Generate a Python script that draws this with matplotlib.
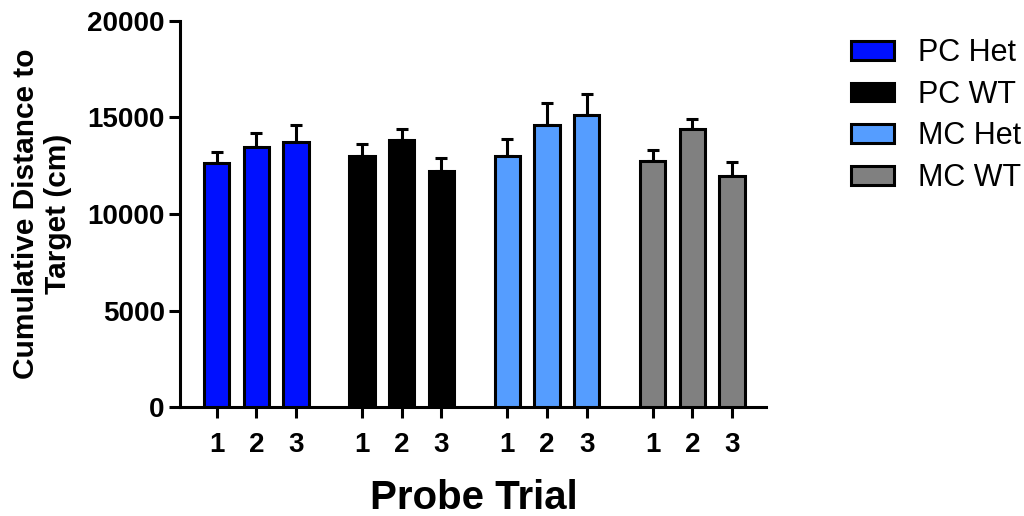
import numpy as np
import matplotlib
matplotlib.use("Agg")
import matplotlib.pyplot as plt
from matplotlib.patches import Patch

plt.rcParams['font.family'] = ['Liberation Sans', 'DejaVu Sans']

groups = ['PC Het', 'PC WT', 'MC Het', 'MC WT']
colors = ['#0010FF', '#000000', '#559DFF', '#808080']
trials = ['1', '2', '3']

means = {
    'PC Het': [12620, 13450, 13710],
    'PC WT': [12980, 13830, 12220],
    'MC Het': [13020, 14620, 15140],
    'MC WT': [12730, 14380, 11970],
}
sems = {
    'PC Het': [570, 720, 880],
    'PC WT': [620, 550, 690],
    'MC Het': [860, 1120, 1050],
    'MC WT': [600, 550, 740],
}

fig = plt.figure(figsize=(10.24, 5.16), dpi=100)
ax = fig.add_axes([0.1758, 0.211, 0.572, 0.749])

group_step = 3.66
xs_all, labels_all = [], []
for g, (name, col) in enumerate(zip(groups, colors)):
    xs = np.arange(3) + g * group_step
    ax.bar(xs, means[name], width=0.64, color=col, edgecolor='black',
           linewidth=2.2, zorder=3)
    ax.errorbar(xs, means[name], yerr=[np.zeros(3), sems[name]], fmt='none',
                ecolor='black', elinewidth=2.2, capsize=4.5, capthick=2.2, zorder=2)
    xs_all.extend(xs)
    labels_all.extend(trials)

ax.set_xlim(-0.92, 13.83)
ax.set_ylim(0, 20000)
ax.set_yticks([0, 5000, 10000, 15000, 20000])
ax.set_xticks(xs_all)
ax.set_xticklabels(labels_all)

for s in ['top', 'right']:
    ax.spines[s].set_visible(False)
for s in ['left', 'bottom']:
    ax.spines[s].set_linewidth(2.2)

ax.tick_params(axis='both', width=2.2, length=8, labelsize=20)
ax.tick_params(axis='y', pad=3)
ax.tick_params(axis='x', pad=10)
for lab in ax.get_xticklabels() + ax.get_yticklabels():
    lab.set_fontweight('bold')

ax.set_ylabel('Cumulative Distance to\nTarget (cm)', fontsize=21.5, fontweight='bold',
              labelpad=11)
fig.text(0.463, 0.034, 'Probe Trial', fontsize=29, fontweight='bold',
         ha='center', va='center')

# legend off to the right of the axes
handles = [Patch(facecolor=c, edgecolor='black', linewidth=2.2, label=n)
           for n, c in zip(groups, colors)]
fig.legend(handles=handles, loc='upper left', bbox_to_anchor=(0.831, 0.926),
           frameon=False, fontsize=22, handlelength=1.4, handleheight=0.56,
           labelspacing=0.38, handletextpad=0.8, borderpad=0, borderaxespad=0)

fig.savefig('out.png', dpi=100)
